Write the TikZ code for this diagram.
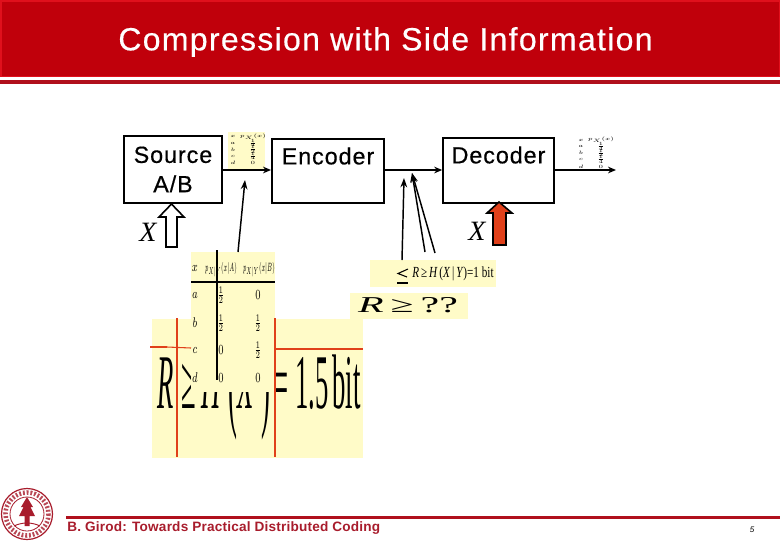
\documentclass[tikz,border=0pt]{standalone}
\usepackage{amsmath,amssymb}
\usepackage{fontspec}
\setmainfont{Liberation Sans}
\newfontfamily\timesfont{Liberation Serif}
\usetikzlibrary{positioning, arrows.meta}
\definecolor{bandred}{HTML}{C0000B}
\definecolor{edgered}{HTML}{E0101C}
\definecolor{rulered}{HTML}{B0101C}
\definecolor{footred}{HTML}{A81C2C}
\definecolor{noteyellow}{HTML}{FFFBC8}
\definecolor{markred}{HTML}{E0401A}
\tikzset{
  blockfont/.style={font=\fontsize{17.5}{22}\selectfont\addfontfeature{LetterSpace=4,FakeBold=0.5}},
  blockbox/.style={rectangle, draw=black, line width=1.5pt, inner sep=0pt, align=center, blockfont},
  notebox/.style={rectangle, fill=noteyellow, inner sep=0pt},
  cell/.style={inner sep=0pt, font=\fontsize{7}{8}\selectfont, yscale=1.5},
  headcell/.style={inner sep=0pt, font=\fontsize{6}{7}\selectfont, xscale=.66, yscale=1.5},
  tiny/.style={inner sep=0pt, font=\fontsize{3}{4}\selectfont, yscale=.72},
  arr/.style={-{Stealth[length=6pt,width=5pt]}, line width=1.4pt, shorten >=0pt},
  narr/.style={-{Stealth[length=7pt,width=5pt]}, line width=1.1pt},
  bigup/.style={draw=black, line width=1.2pt, line join=miter},
  markline/.style={draw=markred, line width=1.7pt},
}
\begin{document}
\begin{tikzpicture}[x=0.75pt, y=-0.75pt]
  \useasboundingbox (0,0) rectangle (780,540);
  % title band
  \fill[edgered] (0,0) rectangle (780,77);
  \fill[bandred] (1.5,1.5) rectangle (778.5,75.5);
  \fill[rulered] (0,79.5) rectangle (780,83.5);
  \node[text=white, inner sep=0pt, font=\fontsize{24}{28}\selectfont\addfontfeature{LetterSpace=4.1,FakeBold=0.5}] (title) at (385.5,42) {Compression with Side Information};

  % blocks
  \node[blockbox, minimum width=73.5pt, minimum height=50pt] (source) at (173,169.5) {Source\\A/B};
  \node[blockbox, minimum width=84pt, minimum height=48pt, anchor=north] (encoder) at (328,138) {};
  \node[blockbox, minimum width=83pt, minimum height=49pt, anchor=north] (decoder) at (498.5,137) {};
  \node[inner sep=0pt, blockfont] (enctext) at (328,156) {Encoder};
  \node[inner sep=0pt, blockfont] (dectext) at (498.5,155) {Decoder};

  % small pmf tables
  \node[notebox, minimum width=28pt, minimum height=29pt] (pmfbg) at (246.5,151) {};
  \foreach \rowy/\rowx/\rowp [count=\i] in {136.5/x/{p_X(x)}, 143/a/{\tfrac14}, 149.5/b/{\tfrac12}, 156/c/{\tfrac14}, 163/d/{0}} {
    \node[tiny] (srcx\i) at (233,\rowy) {$\rowx$};
    \node[tiny] (srcp\i) at (253,\rowy) {$\rowp$};
    \node[tiny] (decx\i) at (581,\rowy+3.5) {$\rowx$};
    \node[tiny] (decp\i) at (601,\rowy+3.5) {$\rowp$};
  }

  % channel arrows
  \coordinate (outend) at (616,170);
  \draw[arr] (source.east |- 0,170) -- (encoder.west |- 0,170);
  \draw[arr] (encoder.east |- 0,170) -- (decoder.west |- 0,170);
  \draw[arr] (decoder.east |- 0,170) -- (outend);

  % side information
  \draw[bigup, fill=white] (166,247) -- (177,247) -- (177,217) -- (184,217) -- (171.5,204) -- (159,217) -- (166,217) -- cycle;
  \draw[bigup, fill=markred] (493,245) -- (506,245) -- (506,213) -- (512,213) -- (499,202) -- (487,213) -- (493,213) -- cycle;
  \node[inner sep=0pt, font=\timesfont\itshape\fontsize{21}{24}\selectfont] (xsrc) at (148,232) {X};
  \node[inner sep=0pt, font=\timesfont\itshape\fontsize{21}{24}\selectfont] (xdec) at (477,231) {X};

  % big rate note
  \node[notebox, minimum width=158.3pt, minimum height=104pt, anchor=north west] (bigbg) at (152,319) {};
  \node[inner sep=0pt, xscale=0.345, anchor=base west, font=\timesfont\fontsize{58}{60}\selectfont] (bigrate) at (157,408)
    {\textit{R}\hspace{.3em}≥\hspace{.2em}\textit{H}\hspace{.25em}\raisebox{-.1em}{\scalebox{1}[1.5]{(}}\textit{X}\hspace{.25em}\raisebox{-.1em}{\scalebox{1}[1.5]{)}}\hspace{.12em}=\hspace{.25em}1.5\hspace{.15em}bit};

  % conditional table
  \node[notebox, minimum width=63pt, minimum height=105pt, anchor=north west] (tablebg) at (191,252) {};
  \node[cell] (hx) at (195,268) {$x$};
  \node[headcell] (ha) at (221,270) {$p_{X|Y}(x|A)$};
  \node[headcell] (hb) at (259,270) {$p_{X|Y}(x|B)$};
  \foreach \rowy/\rowx/\rowa/\rowb [count=\i] in {295/a/{\frac12}/{0}, 323/b/{\frac12}/{\frac12}, 350/c/{0}/{\frac12}, 378/d/{0}/{0}} {
    \node[cell] (cx\i) at (195,\rowy) {$\rowx$};
    \node[cell] (ca\i) at (221,\rowy) {$\rowa$};
    \node[cell] (cb\i) at (258,\rowy) {$\rowb$};
  }
  \coordinate (ruleA) at (191,282);
  \coordinate (ruleB) at (275,282);
  \coordinate (barA) at (217,250);
  \coordinate (barB) at (217,380);
  \draw[line width=1.2pt] (ruleA) -- (ruleB);
  \draw[line width=1.2pt] (barA) -- (barB);

  % red cut marks
  \coordinate (cutAt) at (177,318);
  \coordinate (cutAb) at (177,457);
  \coordinate (cutBt) at (275,318);
  \coordinate (cutBb) at (275,457);
  \coordinate (markL) at (150,347);
  \coordinate (markLm) at (167,347);
  \coordinate (markLe) at (191,348);
  \coordinate (markRm) at (297,349);
  \coordinate (markRe) at (363,349);
  \draw[markline] (cutAt) -- (cutAb);
  \draw[markline] (cutBt) -- (cutBb);
  \draw[markline, line width=1.8pt] (markL) -- (markLm);
  \draw[markline, line width=.8pt] (markLm) -- (markLe);
  \draw[markline, line width=1.8pt] (cutBt |- markRm) -- (markRm);
  \draw[markline, line width=1pt] (markRm) -- (markRe);

  % rate notes on the right
  \node[notebox, minimum width=94.5pt, minimum height=20pt, anchor=north west] (condbg) at (370,260) {};
  \node[inner sep=0pt, xscale=.76, yscale=1.05, font=\timesfont\fontsize{11}{12}\selectfont] (condrate) at (453,274) {\textit{R}\,≥\,\textit{H}\,(\textit{X}\,|\,\textit{Y})=1 bit};
  \coordinate (stubA) at (408,269);
  \coordinate (stubB) at (398,273.5);
  \coordinate (stubC) at (407,277);
  \coordinate (stubD) at (397,283);
  \coordinate (stubE) at (408,283);
  \draw[line width=.8pt] (stubA) -- (stubB) -- (stubC);
  \draw[line width=1pt] (stubD) -- (stubE);
  \node[notebox, minimum width=88.5pt, minimum height=19.5pt, anchor=north west] (askbg) at (350,293) {};
  \node[inner sep=0pt, xscale=1.85, font=\timesfont\fontsize{17}{18}\selectfont] (askrate) at (408,305.5) {\textit{R}\,≥\,??};

  % pointers
  \coordinate (srcfrom) at (238,252);
  \coordinate (srcto) at (245,180);
  \coordinate (decfromA) at (402,260);
  \coordinate (dectoA) at (404,178);
  \coordinate (decfromB) at (425,252);
  \coordinate (decfromC) at (435,253);
  \coordinate (dectoB) at (412,173);
  \draw[narr] (srcfrom) -- (srcto);
  \draw[narr] (decfromA) -- (dectoA);
  \draw[narr] (decfromB) -- (dectoB);
  \draw[narr] (decfromC) -- (dectoB);

  % footer
  \fill[rulered] (66,515.5) rectangle (780,519);
  \node[anchor=west, inner sep=0pt, text=footred, font=\bfseries\fontsize{10.2}{12}\selectfont\addfontfeature{LetterSpace=1.5}] (footer) at (67,528) {B. Girod: Towards Practical Distributed Coding};
  \node[inner sep=0pt, font=\itshape\fontsize{6}{7}\selectfont] (pageno) at (752,530) {5};

  % seal
  \draw[footred, line width=.9pt, fill=white] (27,514) circle (25.5);
  \draw[footred!80, line width=3.4pt, dash pattern=on 1.4pt off 1.4pt] (27,514) circle (21.5);
  \draw[footred, line width=.6pt] (27,514) circle (17);
  \fill[footred] (27,497) -- (33,507) -- (30.5,507) -- (35,516) -- (29.5,516) -- (29.5,526) -- (24.5,526) -- (24.5,516) -- (19,516) -- (23.5,507) -- (21,507) -- cycle;
  \draw[footred, line width=.7pt] (14,526) .. controls (22,522) and (32,522) .. (40,526);
\end{tikzpicture}
\end{document}
